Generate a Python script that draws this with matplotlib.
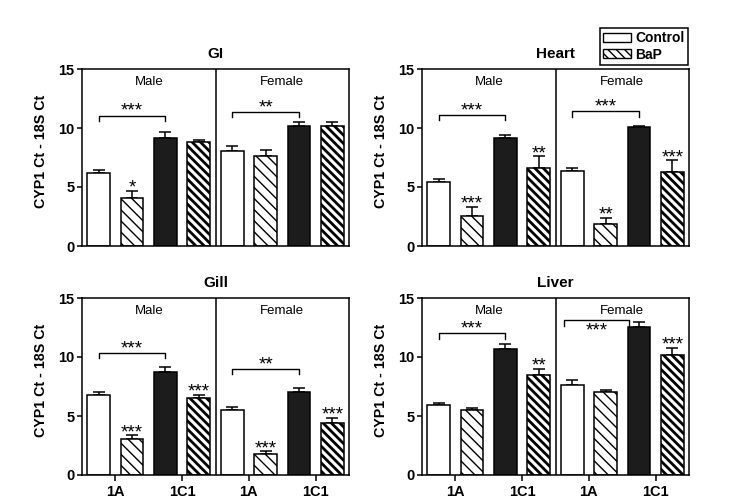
import matplotlib
matplotlib.use("Agg")
import matplotlib.pyplot as plt
from matplotlib.patches import Patch
import numpy as np

plt.rcParams['font.family'] = ['Liberation Sans', 'DejaVu Sans']

# bar order inside each sex: 1A Control, 1A BaP, 1C1 Control, 1C1 BaP
panels = ['GI', 'Heart', 'Gill', 'Liver']
sexes = ['Male', 'Female']
genes = ['1A', '1C1']

gi_male = [6.2, 4.1, 9.15, 8.8]
gi_male_err = [0.25, 0.6, 0.5, 0.2]
gi_female = [8.05, 7.65, 10.2, 10.15]
gi_female_err = [0.4, 0.45, 0.35, 0.4]

heart_male = [5.4, 2.55, 9.15, 6.6]
heart_male_err = [0.25, 0.75, 0.25, 1.0]
heart_female = [6.35, 1.9, 10.1, 6.3]
heart_female_err = [0.3, 0.5, 0.1, 0.95]

gill_male = [6.8, 3.05, 8.75, 6.5]
gill_male_err = [0.2, 0.3, 0.4, 0.28]
gill_female = [5.5, 1.8, 7.05, 4.4]
gill_female_err = [0.28, 0.2, 0.35, 0.45]

liver_male = [5.95, 5.5, 10.65, 8.5]
liver_male_err = [0.17, 0.22, 0.45, 0.5]
liver_female = [7.65, 7.0, 12.55, 10.15]
liver_female_err = [0.38, 0.2, 0.4, 0.65]

# stars above each of the 8 bars (male then female)
gi_stars = ['', '*', '', '', '', '', '', '']
heart_stars = ['', '***', '', '**', '', '**', '', '***']
gill_stars = ['', '***', '', '***', '', '***', '', '***']
liver_stars = ['', '', '', '**', '', '', '', '***']

# brackets: (from bar, to bar, level, label, label below line)
gi_brackets = [(0, 2, 11.05, '***', False), (4, 6, 11.35, '**', False)]
heart_brackets = [(0, 2, 11.1, '***', False), (4, 6, 11.4, '***', False)]
gill_brackets = [(0, 2, 10.35, '***', False), (4, 6, 9.0, '**', False)]
liver_brackets = [(0, 2, 12.0, '***', False), (3.75, 5.7, 13.1, '***', True)]

means = {'GI': gi_male + gi_female, 'Heart': heart_male + heart_female,
         'Gill': gill_male + gill_female, 'Liver': liver_male + liver_female}
errs = {'GI': gi_male_err + gi_female_err, 'Heart': heart_male_err + heart_female_err,
        'Gill': gill_male_err + gill_female_err, 'Liver': liver_male_err + liver_female_err}
stars = {'GI': gi_stars, 'Heart': heart_stars, 'Gill': gill_stars, 'Liver': liver_stars}
brackets = {'GI': gi_brackets, 'Heart': heart_brackets, 'Gill': gill_brackets, 'Liver': liver_brackets}

BLACK = '#1c1c1c'
SPARSE = '\\\\\\'
DENSE = '\\\\\\\\'
# facecolor, hatch, hatch linewidth
styles = [('white', None, 1.0), ('white', SPARSE, 1.0), (BLACK, None, 1.0), ('white', DENSE, 2.0)]

fig = plt.figure(figsize=(7.5, 5.03), dpi=100)
W, H = 750, 503
boxes = {'GI': (82, 69), 'Heart': (422, 69), 'Gill': (82, 298), 'Liver': (422, 298)}
aw, ah = 267, 177

x = np.arange(8) + 0.5
for name in panels:
    left, top = boxes[name]
    ax = fig.add_axes([left / W, 1 - (top + ah) / H, aw / W, ah / H])
    m = means[name]
    e = errs[name]
    ax.errorbar(x, m, yerr=[np.zeros(8), e], fmt='none', ecolor='black',
                elinewidth=1.1, capsize=4, capthick=1.1, zorder=1)
    for i in range(8):
        fc, hatch, hlw = styles[i % 4]
        with plt.rc_context({'hatch.linewidth': hlw}):
            b = ax.bar(x[i], m[i], width=0.68, color=fc, edgecolor='black',
                       linewidth=1.1, hatch=hatch, zorder=2)
        if hatch and hasattr(b[0], 'set_hatch_linewidth'):
            b[0].set_hatch_linewidth(hlw)
        if stars[name][i]:
            ax.text(x[i], m[i] + e[i] - 0.15, stars[name][i], ha='center',
                    va='baseline', fontsize=13.5)
    for i0, i1, lvl, lab, below in brackets[name]:
        x0, x1 = i0 + 0.5, i1 + 0.5
        ax.plot([x0, x0, x1, x1], [lvl - 0.45, lvl, lvl, lvl - 0.45],
                color='black', lw=1.0, zorder=3)
        if below:
            ax.text((x0 + x1) / 2, lvl - 1.3, lab, ha='center', va='baseline', fontsize=13.5)
        else:
            ax.text((x0 + x1) / 2, lvl - 0.02, lab, ha='center', va='baseline', fontsize=13.5)
    ax.axvline(4, color='black', lw=1.1)
    ax.text(2, 13.65, sexes[0], ha='center', va='baseline', fontsize=9.5)
    ax.text(6, 13.65, sexes[1], ha='center', va='baseline', fontsize=9.5)

    ax.set_xlim(0, 8)
    ax.set_ylim(0, 15)
    ax.set_yticks([0, 5, 10, 15])
    for s in ax.spines.values():
        s.set_linewidth(1.1)
    ax.tick_params(axis='y', direction='out', length=3.5, width=1.1, labelsize=10.5, pad=2)
    for t in ax.get_yticklabels():
        t.set_fontweight('bold')
    if name in ('Gill', 'Liver'):
        ax.set_xticks([1, 3, 5, 7])
        ax.set_xticklabels(genes + genes, fontweight='bold', fontsize=10.5)
        ax.tick_params(axis='x', direction='out', length=4.5, width=1.1, pad=3)
    else:
        ax.set_xticks([])
    ax.set_title(name, fontweight='bold', fontsize=11, pad=8)
    ax.set_ylabel('CYP1 Ct - 18S Ct', fontweight='bold', fontsize=10.3)
    ax.yaxis.set_label_coords(-0.127, 0.537)

handles = [Patch(facecolor='white', edgecolor='black', label='Control'),
           Patch(facecolor='white', edgecolor='black', hatch=DENSE, label='BaP')]
leg = fig.legend(handles=handles, loc='upper right', bbox_to_anchor=(688 / W, 1 - 28 / H),
                 frameon=True, fancybox=False, edgecolor='black', framealpha=1,
                 prop={'weight': 'bold', 'size': 10}, handlelength=2.0, handleheight=0.55,
                 labelspacing=0.15, borderpad=0.25, handletextpad=0.3, borderaxespad=0)
leg.get_frame().set_linewidth(1.1)

fig.savefig('out.png', dpi=100)
